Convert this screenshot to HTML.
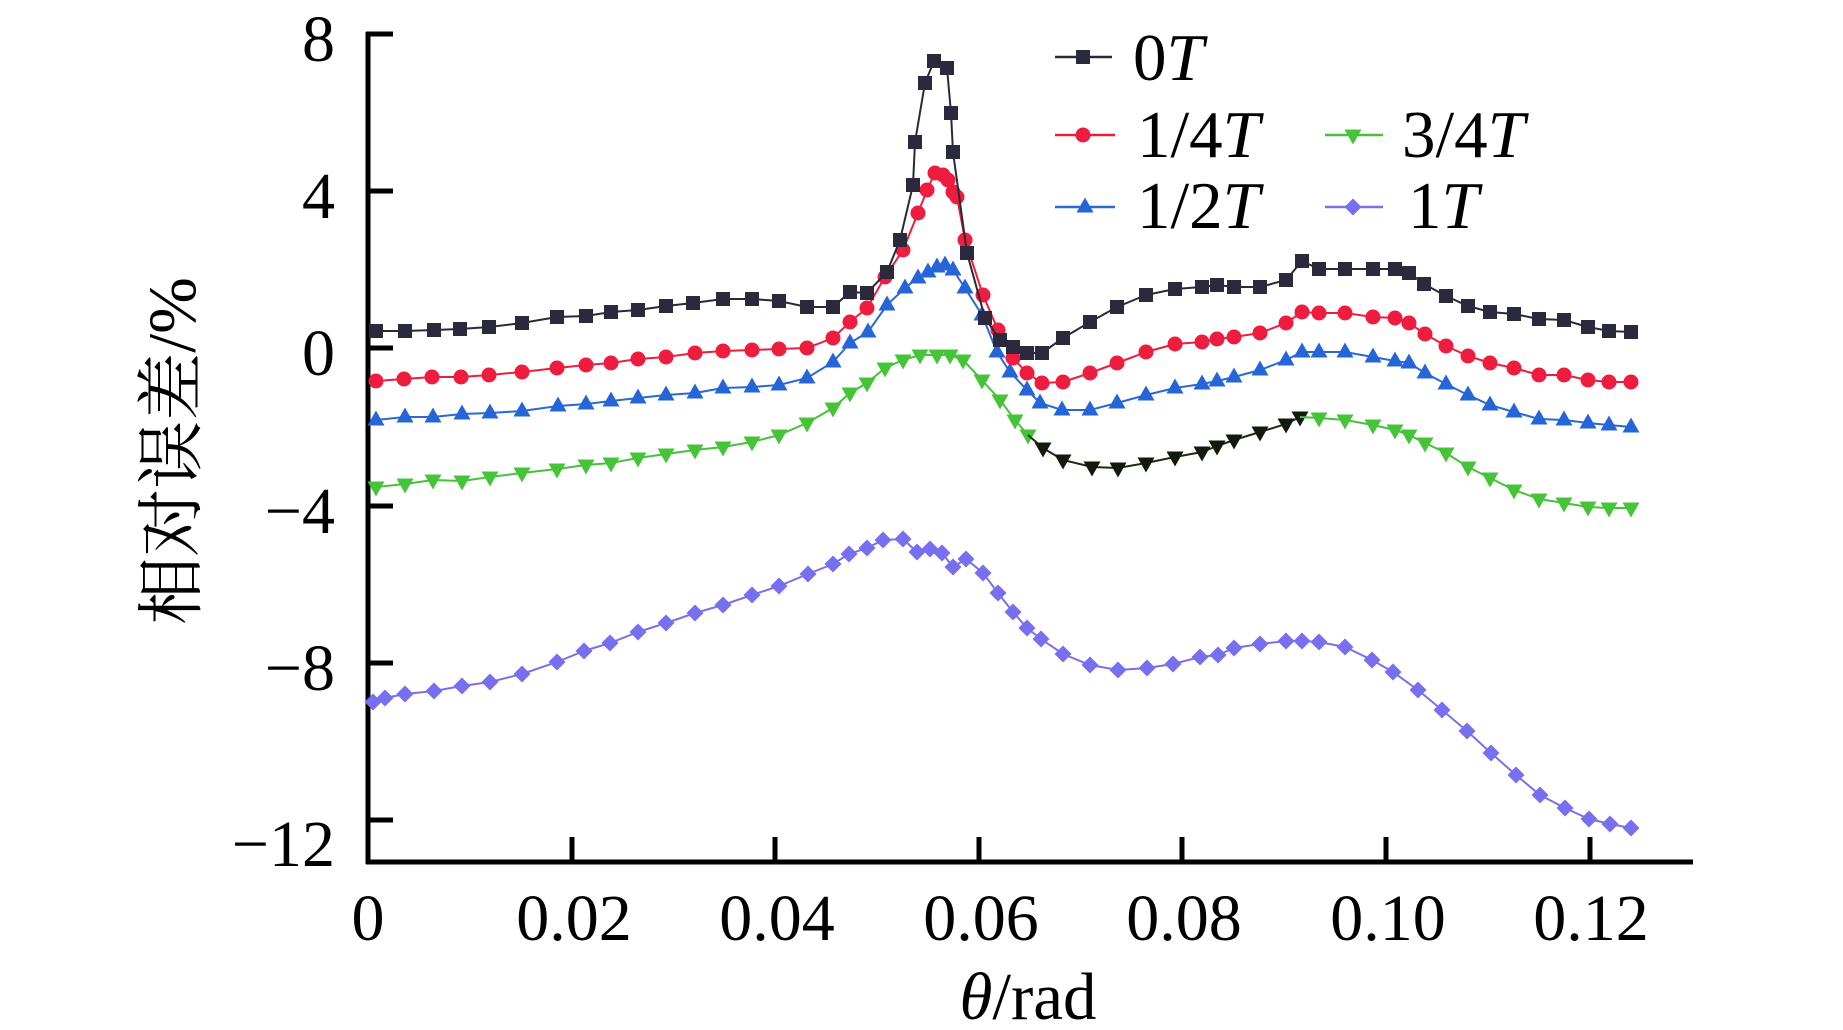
<!DOCTYPE html>
<html>
<head>
<meta charset="utf-8">
<style>
html,body{margin:0;padding:0;background:#fff;}
svg{display:block;}
text{font-family:"Liberation Serif","Noto Serif CJK SC",serif;fill:#000;}
</style>
</head>
<body>
<svg width="1843" height="1030" viewBox="0 0 1843 1030" xmlns="http://www.w3.org/2000/svg">
<defs>
  <marker id="sq" markerUnits="userSpaceOnUse" markerWidth="14" markerHeight="14" refX="7" refY="7" viewBox="0 0 14 14">
    <rect x="0" y="0" width="14" height="14" fill="#2a2a3c"/>
  </marker>
  <marker id="ci" markerUnits="userSpaceOnUse" markerWidth="16" markerHeight="16" refX="8" refY="8" viewBox="0 0 16 16">
    <circle cx="8" cy="8" r="7.5" fill="#ee1c3e"/>
  </marker>
  <marker id="tu" markerUnits="userSpaceOnUse" markerWidth="17" markerHeight="16" refX="8.5" refY="9.5" viewBox="0 0 17 16">
    <polygon points="8.5,0 17,15 0,15" fill="#2565d8"/>
  </marker>
  <marker id="td" markerUnits="userSpaceOnUse" markerWidth="17" markerHeight="16" refX="8.5" refY="5.5" viewBox="0 0 17 16">
    <polygon points="0,0 17,0 8.5,15" fill="#44c436"/>
  </marker>
  <marker id="tdk" markerUnits="userSpaceOnUse" markerWidth="17" markerHeight="16" refX="8.5" refY="5.5" viewBox="0 0 17 16">
    <polygon points="0,0 17,0 8.5,15" fill="#121a0c"/>
  </marker>
  <marker id="di" markerUnits="userSpaceOnUse" markerWidth="17" markerHeight="17" refX="8.5" refY="8.5" viewBox="0 0 17 17">
    <polygon points="8.5,0 17,8.5 8.5,17 0,8.5" fill="#776ef0"/>
  </marker>
</defs>

<!-- axes -->
<g stroke="#000" stroke-width="5" fill="none">
  <line x1="368" y1="32" x2="368" y2="864"/>
  <line x1="366" y1="862" x2="1693" y2="862"/>
  <line x1="366" y1="34" x2="393" y2="34"/>
  <line x1="366" y1="191" x2="393" y2="191"/>
  <line x1="366" y1="348" x2="393" y2="348"/>
  <line x1="366" y1="506" x2="393" y2="506"/>
  <line x1="366" y1="663" x2="393" y2="663"/>
  <line x1="366" y1="820" x2="393" y2="820"/>
  <line x1="572" y1="837" x2="572" y2="862"/>
  <line x1="775" y1="837" x2="775" y2="862"/>
  <line x1="979" y1="837" x2="979" y2="862"/>
  <line x1="1182" y1="837" x2="1182" y2="862"/>
  <line x1="1386" y1="837" x2="1386" y2="862"/>
  <line x1="1590" y1="837" x2="1590" y2="862"/>
</g>

<!-- y tick labels -->
<g font-size="66" text-anchor="end">
  <text x="335" y="61">8</text>
  <text x="335" y="218">4</text>
  <text x="335" y="375">0</text>
  <text x="335" y="533">−4</text>
  <text x="335" y="690">−8</text>
  <text x="335" y="866">−12</text>
</g>
<!-- x tick labels -->
<g font-size="66" text-anchor="middle">
  <text x="368" y="940">0</text>
  <text x="574" y="940">0.02</text>
  <text x="777" y="940">0.04</text>
  <text x="981" y="940">0.06</text>
  <text x="1184" y="940">0.08</text>
  <text x="1388" y="940">0.10</text>
  <text x="1591" y="940">0.12</text>
</g>

<!-- axis titles -->
<text x="1028" y="1019" font-size="67" text-anchor="middle"><tspan font-style="italic">θ</tspan>/rad</text>
<text transform="translate(195,451) rotate(-90)" font-size="68" text-anchor="middle">相对误差/%</text>

<!-- series: 1T purple -->
<polyline fill="none" stroke="#7a72e2" stroke-width="2" marker-start="url(#di)" marker-mid="url(#di)" marker-end="url(#di)"
points="373,702 385,698 405,694 434,691 462,686 490,682 522,674 557,662 584,651 610,643 638,632 666,623 695,613 723,605 752,595 779,586 808,574 833,564 849,554 867,548 883,540 903,539 917,552 930,549 942,553 953,567 966,559 983,573 998,593 1013,612 1027,628 1041,639 1063,654 1090,665 1118,670 1147,668 1173,664 1200,657 1218,655 1234,648 1260,644 1286,641 1302,641 1319,642 1345,647 1372,660 1393,672 1418,690 1442,710 1467,731 1491,753 1516,775 1540,795 1565,808 1589,819 1610,824 1631,828"/>

<!-- series: 3/4T green -->
<polyline fill="none" stroke="#48c03e" stroke-width="2" marker-start="url(#td)" marker-mid="url(#td)" marker-end="url(#td)"
points="376,487 405,484 433,480 462,481 490,477 522,473 557,469 586,465 611,463 638,458 666,454 695,450 723,447 752,442 779,435 807,423 833,408 850,393 867,383 885,368 903,360 920,355 937,355 950,355 963,360 982,380 1000,400 1015,420 1028,435"/>
<polyline fill="none" stroke="#1c2a14" stroke-width="2" marker-mid="url(#tdk)" marker-end="url(#tdk)"
points="1028,435 1043,448 1063,460 1092,467 1118,468 1146,463 1175,457 1202,452 1217,446 1234,440 1260,432 1286,424 1300,417"/>
<polyline fill="none" stroke="#48c03e" stroke-width="2" marker-mid="url(#td)" marker-end="url(#td)"
points="1300,417 1319,418 1345,420 1373,425 1395,430 1409,435 1425,443 1446,453 1468,467 1490,478 1514,490 1539,499 1564,503 1588,507 1609,508 1631,508"/>

<!-- series: 1/2T blue -->
<polyline fill="none" stroke="#2a68d2" stroke-width="2" marker-start="url(#tu)" marker-mid="url(#tu)" marker-end="url(#tu)"
points="376,420 405,417 433,417 462,414 490,413 522,411 558,406 586,404 611,401 638,398 666,395 695,393 723,388 752,387 779,385 807,378 833,362 850,343 868,332 887,305 905,288 918,278 928,272 937,267 945,265 953,270 965,288 982,315 997,352 1010,372 1027,390 1040,403 1062,410 1090,410 1117,403 1146,395 1175,388 1202,384 1217,381 1234,377 1260,370 1286,360 1302,352 1319,352 1345,352 1373,357 1395,361 1409,363 1425,373 1446,384 1468,395 1490,405 1514,412 1539,419 1564,420 1588,423 1609,425 1631,427"/>

<!-- series: 1/4T red -->
<polyline fill="none" stroke="#e8203c" stroke-width="2" marker-start="url(#ci)" marker-mid="url(#ci)" marker-end="url(#ci)"
points="376,381 404,379 432,377 461,377 489,375 522,372 557,368 586,365 611,363 638,359 666,357 695,353 723,351 752,350 779,349 807,348 833,338 850,322 867,308 885,277 903,250 918,213 927,190 935,173 943,175 948,180 953,192 957,197 965,240 983,295 998,330 1013,358 1027,373 1042,383 1063,382 1090,373 1117,363 1146,352 1175,344 1202,342 1217,339 1234,337 1260,333 1286,323 1302,312 1319,313 1345,313 1373,317 1395,318 1409,323 1425,334 1446,346 1468,356 1490,363 1514,368 1539,375 1564,375 1588,380 1609,382 1631,382"/>

<!-- series: 0T black -->
<polyline fill="none" stroke="#2a2a34" stroke-width="2" marker-start="url(#sq)" marker-mid="url(#sq)" marker-end="url(#sq)"
points="376,331 405,331 434,330 460,329 489,327 522,323 557,317 586,316 611,312 638,310 666,306 693,303 723,299 752,299 779,301 807,307 833,307 850,292 867,293 887,272 900,240 913,185 915,142 925,83 934,61 947,68 951,113 953,152 967,253 985,318 1000,340 1013,347 1027,353 1042,353 1063,338 1090,322 1117,307 1146,295 1175,289 1202,287 1217,285 1234,287 1260,287 1286,280 1302,261 1319,269 1345,269 1373,269 1395,269 1409,273 1424,284 1446,296 1468,306 1490,312 1514,314 1539,319 1564,320 1588,327 1609,331 1631,332"/>

<!-- legend -->
<g stroke-width="2.5" fill="none">
  <polyline stroke="#2a2a34" points="1055,57 1083,57 1112,57" marker-mid="url(#sq)"/>
  <polyline stroke="#e8203c" points="1055,135 1083,135 1115,135" marker-mid="url(#ci)"/>
  <polyline stroke="#2a68d2" points="1055,207 1085,207 1115,207" marker-mid="url(#tu)"/>
  <polyline stroke="#48c03e" points="1325,135 1353,135 1383,135" marker-mid="url(#td)"/>
  <polyline stroke="#7a72e2" points="1325,207 1353,207 1383,207" marker-mid="url(#di)"/>
</g>
<g font-size="67">
  <text x="1133" y="80">0<tspan font-style="italic">T</tspan></text>
  <text x="1137" y="157">1/4<tspan font-style="italic">T</tspan></text>
  <text x="1137" y="228">1/2<tspan font-style="italic">T</tspan></text>
  <text x="1402" y="157">3/4<tspan font-style="italic">T</tspan></text>
  <text x="1408" y="228">1<tspan font-style="italic">T</tspan></text>
</g>
</svg>
</body>
</html>
